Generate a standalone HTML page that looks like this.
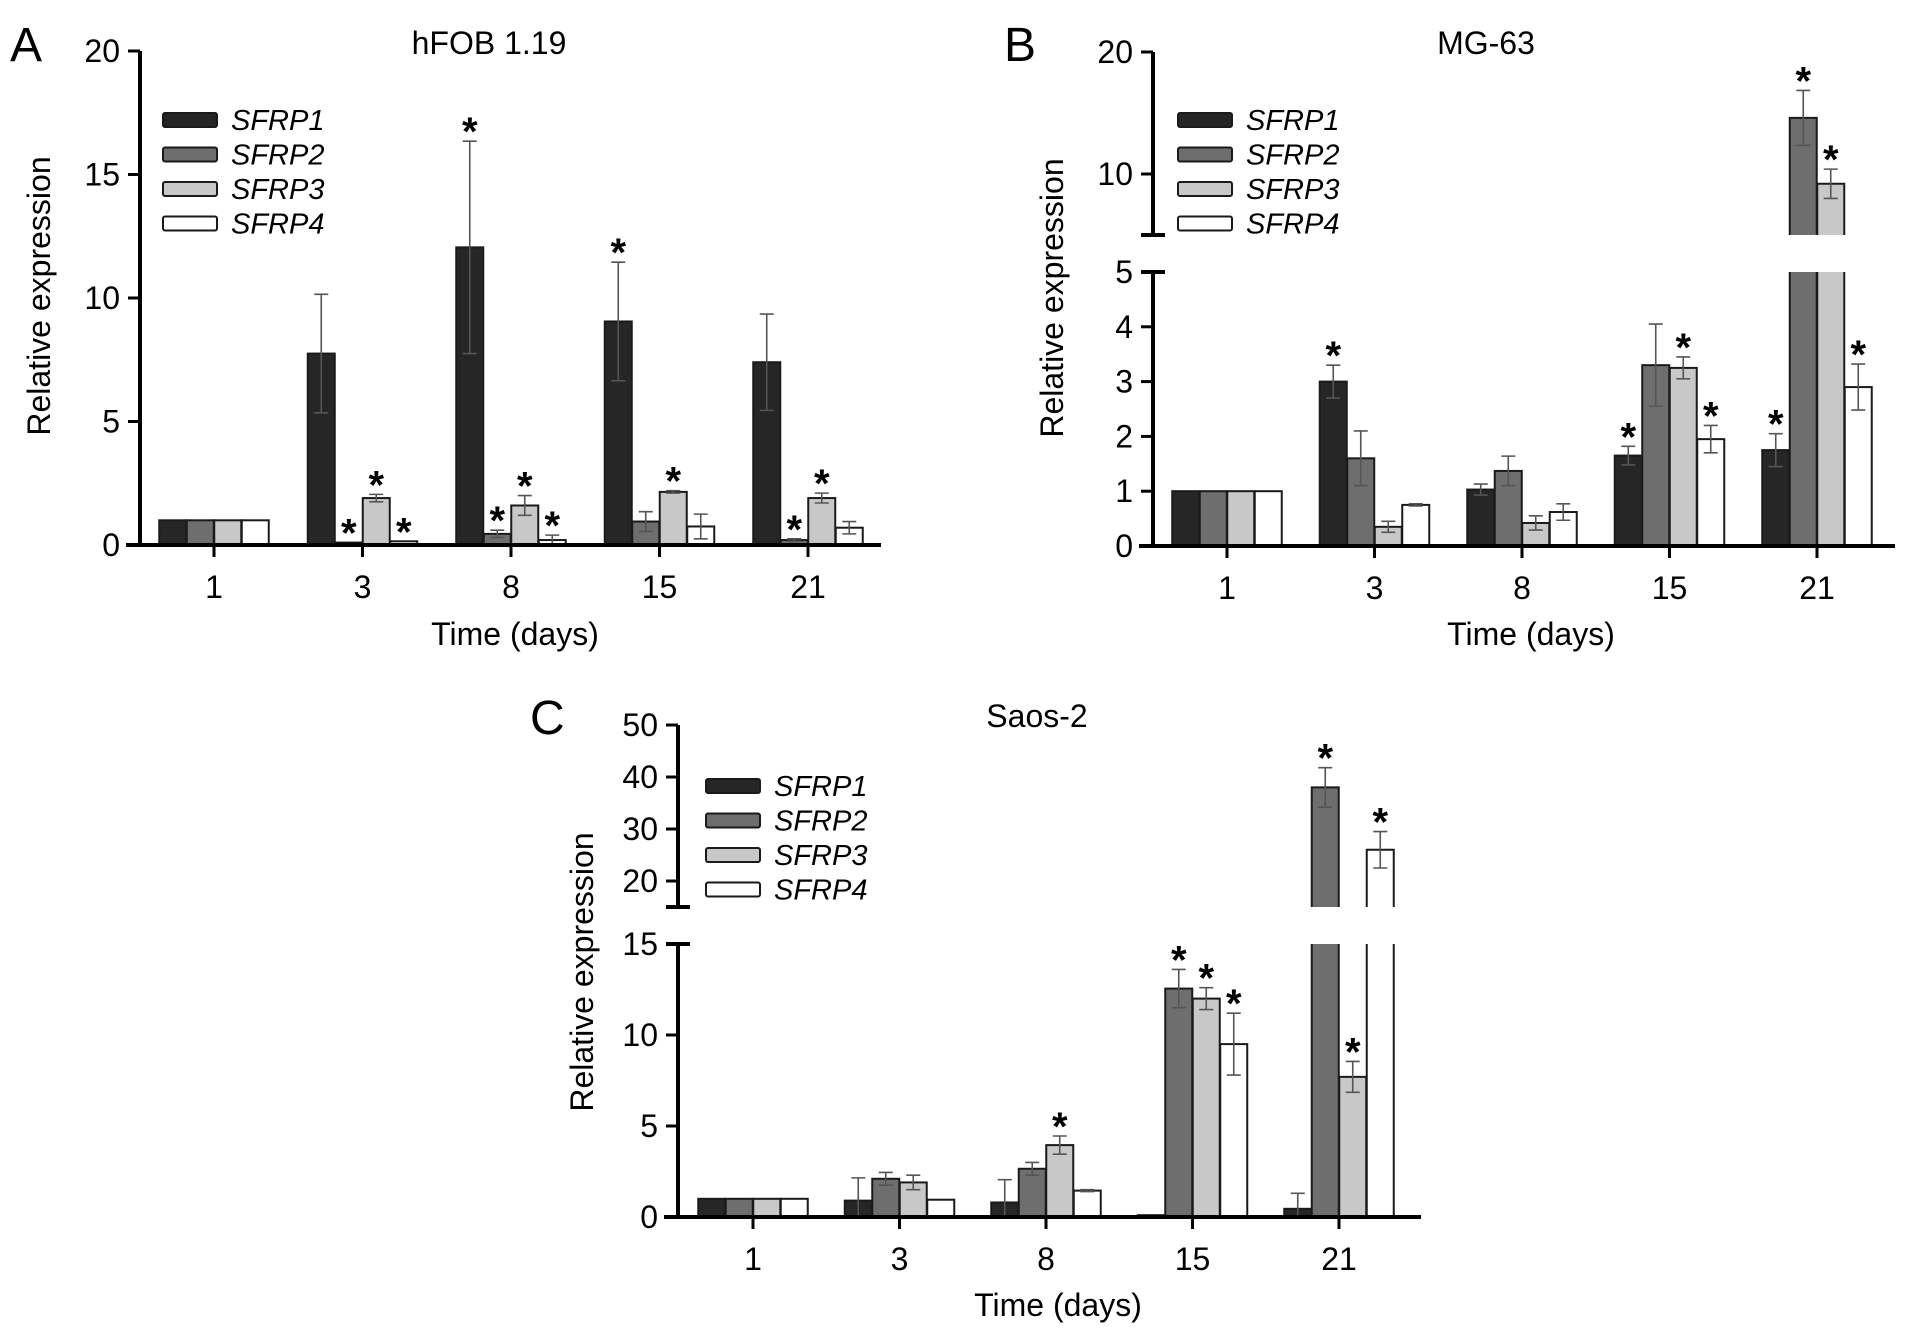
<!DOCTYPE html>
<html><head><meta charset="utf-8">
<style>
html,body{margin:0;padding:0;background:#fff;}
svg{display:block;font-family:"Liberation Sans",Arial,sans-serif;}
</style></head>
<body>
<svg id="fig" width="1913" height="1336" viewBox="0 0 1913 1336" xmlns="http://www.w3.org/2000/svg">
  <text x="10" y="61" font-size="48">A</text>
  <text x="1004" y="61" font-size="48">B</text>
  <text x="530" y="734" font-size="48">C</text>
  <text x="489" y="54" font-size="32" text-anchor="middle">hFOB 1.19</text>
  <text x="1486" y="54" font-size="32" text-anchor="middle">MG-63</text>
  <text x="1037" y="727" font-size="32" text-anchor="middle">Saos-2</text>
  <text x="515" y="645" font-size="32" text-anchor="middle">Time (days)</text>
  <text x="1531" y="645" font-size="32" text-anchor="middle">Time (days)</text>
  <text x="1058" y="1316" font-size="32" text-anchor="middle">Time (days)</text>
  <text transform="translate(50,296) rotate(-90)" font-size="32" text-anchor="middle">Relative expression</text>
  <text transform="translate(1063,298) rotate(-90)" font-size="32" text-anchor="middle">Relative expression</text>
  <text transform="translate(593,972) rotate(-90)" font-size="32" text-anchor="middle">Relative expression</text>
</svg>
<script>
// ---- shared categories ----
const categories = ["1", "3", "8", "15", "21"];
const seriesNames = ["SFRP1", "SFRP2", "SFRP3", "SFRP4"];

// ---- Panel A: hFOB 1.19 ----
const aSFRP1 = [1, 7.75, 12.05, 9.05, 7.4];
const aSFRP2 = [1, 0.1, 0.45, 0.95, 0.2];
const aSFRP3 = [1, 1.9, 1.6, 2.15, 1.9];
const aSFRP4 = [1, 0.15, 0.2, 0.75, 0.7];
const aErr1 = [0, 2.4, 4.3, 2.4, 1.95];
const aErr2 = [0, 0, 0.15, 0.4, 0.05];
const aErr3 = [0, 0.15, 0.4, 0.05, 0.2];
const aErr4 = [0, 0, 0.2, 0.5, 0.25];
const aStars1 = [0, 0, 1, 1, 0];
const aStars2 = [0, 1, 1, 0, 1];
const aStars3 = [0, 1, 1, 1, 1];
const aStars4 = [0, 1, 1, 0, 0];
const aTicks = [0, 5, 10, 15, 20];

// ---- Panel B: MG-63 ----
const bSFRP1 = [1, 3.0, 1.03, 1.65, 1.75];
const bSFRP2 = [1, 1.6, 1.37, 3.3, 14.6];
const bSFRP3 = [1, 0.35, 0.42, 3.25, 9.2];
const bSFRP4 = [1, 0.75, 0.62, 1.95, 2.9];
const bErr1 = [0, 0.3, 0.1, 0.17, 0.3];
const bErr2 = [0, 0.5, 0.27, 0.75, 2.25];
const bErr3 = [0, 0.1, 0.13, 0.2, 1.2];
const bErr4 = [0, 0.02, 0.15, 0.25, 0.42];
const bStars1 = [0, 1, 0, 1, 1];
const bStars2 = [0, 0, 0, 0, 1];
const bStars3 = [0, 0, 0, 1, 1];
const bStars4 = [0, 0, 0, 1, 1];
const bTicksLow = [0, 1, 2, 3, 4, 5];
const bTicksHigh = [10, 20];

// ---- Panel C: Saos-2 ----
const cSFRP1 = [1, 0.9, 0.8, 0.1, 0.45];
const cSFRP2 = [1, 2.1, 2.65, 12.55, 38];
const cSFRP3 = [1, 1.9, 3.95, 12.0, 7.7];
const cSFRP4 = [1, 0.95, 1.45, 9.5, 26];
const cErr1 = [0, 1.25, 1.25, 0, 0.85];
const cErr2 = [0, 0.35, 0.35, 1.05, 3.8];
const cErr3 = [0, 0.4, 0.5, 0.6, 0.85];
const cErr4 = [0, 0, 0.05, 1.7, 3.5];
const cStars1 = [0, 0, 0, 0, 0];
const cStars2 = [0, 0, 0, 1, 1];
const cStars3 = [0, 0, 1, 1, 1];
const cStars4 = [0, 0, 0, 1, 1];
const cTicksLow = [0, 5, 10, 15];
const cTicksHigh = [20, 30, 40, 50];

const NS = "http://www.w3.org/2000/svg";
const svg = document.getElementById("fig");
const fills = ["#262626", "#6e6e6e", "#c8c8c8", "#ffffff"];

function mk(tag, attrs, parent) {
  const e = document.createElementNS(NS, tag);
  for (const k in attrs) e.setAttribute(k, attrs[k]);
  (parent || svg).appendChild(e);
  return e;
}

function drawPanel(p) {
  const g = mk("g", {});
  
  
  function yOf(v) {
    const lo = p.low;
    if (v <= lo.max || !p.high) return lo.yb - (v - lo.min) * (lo.yb - lo.yt) / (lo.max - lo.min);
    const hi = p.high;
    return hi.yb - (v - hi.min) * (hi.yb - hi.yt) / (hi.max - hi.min);
  }
  function xOf(i) { return p.x1 + p.step * i; }
  const bw = 27, gap = 0.5;

  function star(x, y) {
    const st = mk("text", { x: x, y: y + 4, "font-size": 40, "font-weight": "bold", "text-anchor": "middle" }, g);
    st.textContent = "*";
    
    
  }
  function errBar(cx, lo, hi) {
    const eb = mk("path", { d: `M${cx},${yOf(lo)}V${yOf(hi)}M${cx - 7},${yOf(hi)}H${cx + 7}M${cx - 7},${yOf(lo)}H${cx + 7}`, stroke: "#555", "stroke-width": 1.6, fill: "none" }, g);
    
    
  }

  for (let s = 0; s < 4; s++) {
    for (let i = 0; i < categories.length; i++) {
      const v = p.vals[s][i], e = p.errs[s][i];
      const x = xOf(i) - 2 * bw - 1.5 * gap + s * (bw + gap);
      const cx = x + bw / 2;
      const yb = p.low.yb;
      if (p.high && v > p.low.max) {
        const yt = p.low.yt;
        const r = mk("rect", { x: x, y: yt, width: bw, height: yb - yt, fill: fills[s], stroke: "none" }, g);
        
        
        mk("polyline", { points: `${x},${yt} ${x},${yb} ${x + bw},${yb} ${x + bw},${yt}`, fill: "none", stroke: "#1a1a1a", "stroke-width": 2 }, g);
        const ht = yOf(v), hb = p.high.yb;
        const r2 = mk("rect", { x: x, y: ht, width: bw, height: hb - ht, fill: fills[s], stroke: "none" }, g);
        
        
        mk("polyline", { points: `${x},${hb} ${x},${ht} ${x + bw},${ht} ${x + bw},${hb}`, fill: "none", stroke: "#1a1a1a", "stroke-width": 2 }, g);
        if (e > 0) errBar(cx, v - e, v + e);
        if (p.stars[s][i]) star(cx, yOf(v + e));
      } else {
        const yt = yOf(v);
        const r = mk("rect", { x: x, y: yt, width: bw, height: Math.max(yb - yt, 1), fill: fills[s], stroke: "#1a1a1a", "stroke-width": 2 }, g);
        
        
        if (e > 0) errBar(cx, Math.max(v - e, 0), v + e);
        if (p.stars[s][i]) star(cx, yOf(v + e));
      }
    }
  }

  // y axis
  const ya = mk("g", {}, g);
  
  
  mk("line", { x1: p.x0, x2: p.x0, y1: p.low.yb + 2, y2: p.low.yt, stroke: "#000", "stroke-width": 4 }, ya);
  function tick(v, y) {
    mk("line", { x1: p.x0 - 12, x2: p.x0, y1: y, y2: y, stroke: "#000", "stroke-width": 3 }, ya);
    const t = mk("text", { x: p.x0 - 20, y: y + 11, "font-size": 32, "text-anchor": "end" }, ya);
    t.textContent = v;
    
    
  }
  p.lowTicks.forEach(v => tick(v, yOf(v)));
  if (p.high) {
    mk("line", { x1: p.x0, x2: p.x0, y1: p.high.yb, y2: p.high.yt, stroke: "#000", "stroke-width": 4 }, ya);
    mk("line", { x1: p.x0 - 12, x2: p.x0 + 12, y1: p.high.yb, y2: p.high.yb, stroke: "#000", "stroke-width": 4 }, ya);
    mk("line", { x1: p.x0 - 12, x2: p.x0 + 12, y1: p.low.yt, y2: p.low.yt, stroke: "#000", "stroke-width": 4 }, ya);
    p.highTicks.forEach(v => tick(v, yOf(v)));
  }
  // x axis
  const xa = mk("g", {}, g);
  
  
  mk("line", { x1: p.x0 - 14, x2: p.xEnd, y1: p.low.yb, y2: p.low.yb, stroke: "#000", "stroke-width": 4 }, xa);
  categories.forEach((c, i) => {
    mk("line", { x1: xOf(i), x2: xOf(i), y1: p.low.yb, y2: p.low.yb + 12, stroke: "#000", "stroke-width": 3 }, xa);
    const t = mk("text", { x: xOf(i), y: p.low.yb + 53, "font-size": 32, "text-anchor": "middle" }, xa);
    t.textContent = c;
    
    
  });
  // legend
  const lg = mk("g", {}, g);
  
  
  seriesNames.forEach((n, s) => {
    const y = p.legY + s * 34.5;
    const le = mk("g", {}, lg);
    
    
    mk("rect", { x: p.legX, y: y - 7, width: 54, height: 14, rx: 2, fill: fills[s], stroke: "#1a1a1a", "stroke-width": 2 }, le);
    const t = mk("text", { x: p.legX + 68, y: y + 10, "font-size": 29, "font-style": "italic" }, le);
    t.textContent = n;
  });
}

drawPanel({ id: "panel-a", x0: 140, xEnd: 881, x1: 214, step: 148.5,
  low: { min: 0, max: 20, yb: 545, yt: 51 }, lowTicks: aTicks,
  vals: [aSFRP1, aSFRP2, aSFRP3, aSFRP4], errs: [aErr1, aErr2, aErr3, aErr4],
  stars: [aStars1, aStars2, aStars3, aStars4], legX: 163, legY: 120 });

drawPanel({ id: "panel-b", x0: 1153, xEnd: 1895, x1: 1227, step: 147.5,
  low: { min: 0, max: 5, yb: 546, yt: 272 }, lowTicks: bTicksLow,
  high: { min: 5, max: 20, yb: 235, yt: 52 }, highTicks: bTicksHigh,
  vals: [bSFRP1, bSFRP2, bSFRP3, bSFRP4], errs: [bErr1, bErr2, bErr3, bErr4],
  stars: [bStars1, bStars2, bStars3, bStars4], legX: 1178, legY: 120 });

drawPanel({ id: "panel-c", x0: 678, xEnd: 1421, x1: 753, step: 146.5,
  low: { min: 0, max: 15, yb: 1217, yt: 944 }, lowTicks: cTicksLow,
  high: { min: 15, max: 50, yb: 907, yt: 725 }, highTicks: cTicksHigh,
  vals: [cSFRP1, cSFRP2, cSFRP3, cSFRP4], errs: [cErr1, cErr2, cErr3, cErr4],
  stars: [cStars1, cStars2, cStars3, cStars4], legX: 706, legY: 786 });
</script>
</body></html>
